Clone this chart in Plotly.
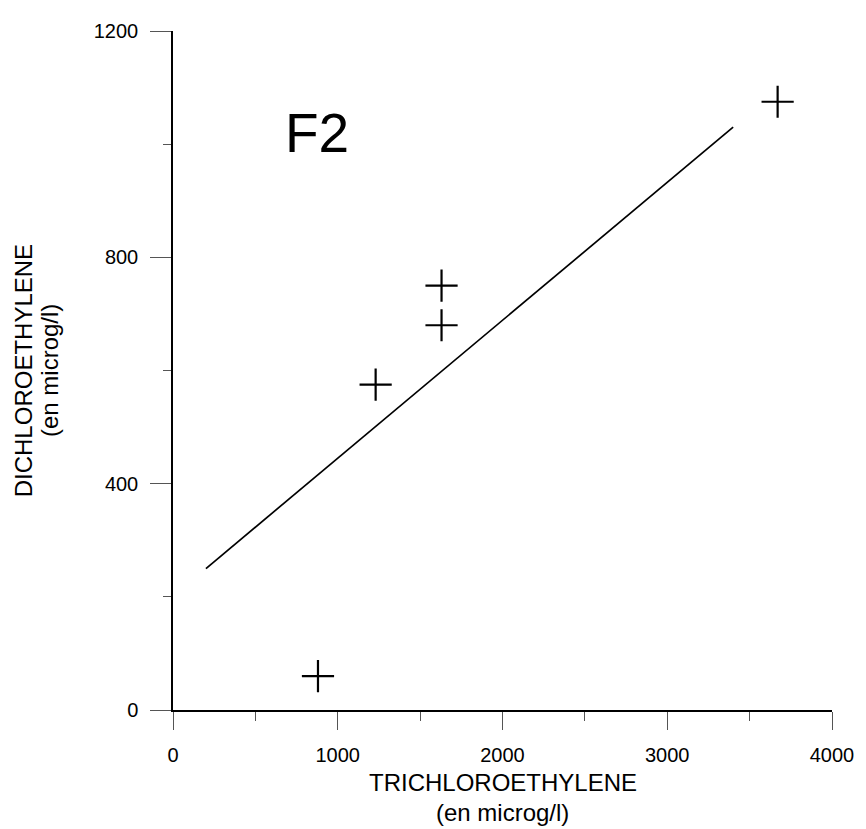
import plotly.graph_objects as go

# Data
tce = [880, 1230, 1630, 1630, 3670]          # TRICHLOROETHYLENE (microg/l)
dce = [60, 575, 750, 680, 1075]              # DICHLOROETHYLENE (microg/l)
fit_x = [200, 3400]                          # regression line endpoints
fit_y = [250, 1030]
x_ticks = [0, 1000, 2000, 3000, 4000]
y_ticks = [0, 400, 800, 1200]
panel_label = "F2"
x_title_lines = ["TRICHLOROETHYLENE", "(en microg/l)"]
y_title_lines = ["DICHLOROETHYLENE", "(en microg/l)"]

FONT = "Liberation Sans, Arial, sans-serif"

fig = go.Figure()
fig.add_trace(go.Scatter(x=fit_x, y=fit_y, mode="lines",
                         line=dict(color="black", width=1.7),
                         showlegend=False, hoverinfo="skip"))
fig.add_trace(go.Scatter(x=tce, y=dce, mode="markers",
                         marker=dict(symbol="cross-thin", size=23,
                                     line=dict(color="black", width=2.2)),
                         showlegend=False))

fig.add_annotation(x=876, y=1020, text=panel_label, showarrow=False,
                   font=dict(family=FONT, size=55, color="black"),
                   xanchor="center", yanchor="middle")

# axis titles, one annotation per line
for txt, yy in zip(x_title_lines, [-0.1072, -0.1510]):
    fig.add_annotation(xref="paper", yref="paper", x=0.5, y=yy, text=txt,
                       showarrow=False, borderpad=0,
                       font=dict(family=FONT, size=24, color="black"),
                       xanchor="center", yanchor="middle")
for txt, xx in zip(y_title_lines, [-0.2264, -0.1874]):
    fig.add_annotation(xref="paper", yref="paper", x=xx, y=0.5, text=txt,
                       showarrow=False, borderpad=0, textangle=-90,
                       font=dict(family=FONT, size=24, color="black"),
                       xanchor="center", yanchor="middle")

fig.update_layout(
    width=858, height=821,
    margin=dict(l=165, r=26, t=12, b=119),
    paper_bgcolor="white", plot_bgcolor="white",
    font=dict(family=FONT, color="black"),
    xaxis=dict(range=[0, 4000], tickvals=x_ticks,
               showgrid=False, zeroline=False,
               showline=True, linecolor="black", linewidth=1.5,
               ticks="outside", ticklen=18, tickwidth=1, tickcolor="#555",
               minor=dict(dtick=500, ticks="outside", ticklen=9, tickcolor="#555", showgrid=False),
               tickfont=dict(size=20, family=FONT, color="black"),
               ticklabelstandoff=8),
    yaxis=dict(range=[0, 1200], tickvals=y_ticks,
               showgrid=False, zeroline=False,
               showline=True, linecolor="black", linewidth=1.5,
               ticks="outside", ticklen=21, tickwidth=1, tickcolor="#555",
               minor=dict(dtick=200, ticks="outside", ticklen=8, tickcolor="#555", showgrid=False),
               tickfont=dict(size=20, family=FONT, color="black"),
               ticklabelstandoff=8),
)

fig.write_html("out.html")
